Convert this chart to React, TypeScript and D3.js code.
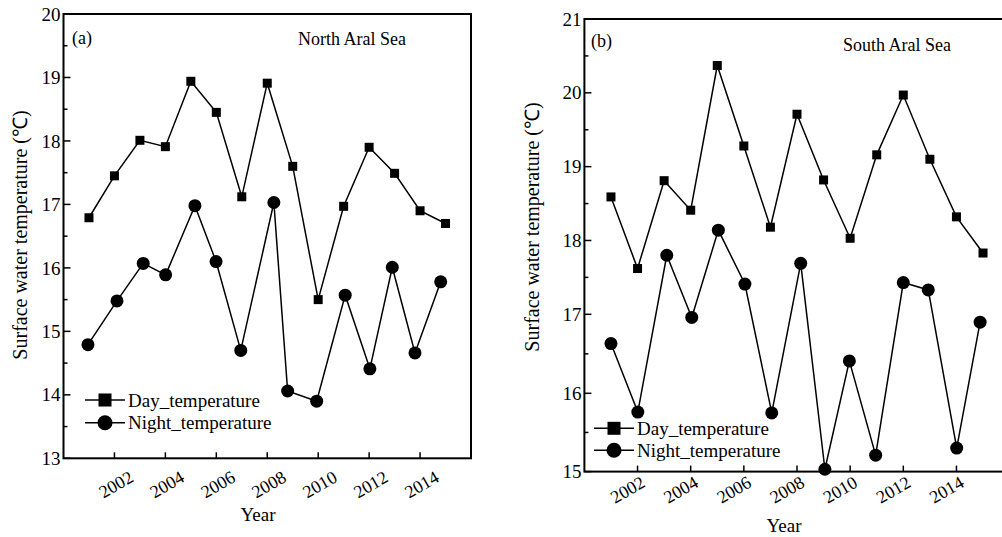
import React from "react";
import * as d3 from "d3";

// ---------- DATA ----------
const years = [2001, 2002, 2003, 2004, 2005, 2006, 2007, 2008, 2009, 2010, 2011, 2012, 2013, 2014, 2015];

const northDay = [16.79, 17.45, 18.01, 17.91, 18.94, 18.45, 17.12, 18.91, 17.6, 15.5, 16.97, 17.9, 17.49, 16.9, 16.7];
const northNightYears = [2000.96, 2002.1, 2003.13, 2004.01, 2005.16, 2005.99, 2006.96, 2008.26, 2008.8, 2009.94, 2011.06, 2012.03, 2012.91, 2013.8, 2014.81];
const northNight = [14.79, 15.48, 16.07, 15.89, 16.98, 16.1, 14.7, 17.03, 14.06, 13.9, 15.57, 14.41, 16.01, 14.66, 15.78];

const southDay = [18.59, 17.62, 18.81, 18.41, 20.37, 19.28, 18.18, 19.71, 18.82, 18.03, 19.16, 19.97, 19.1, 18.32, 17.83];
const southNightYears = [2001.0, 2002.01, 2003.1, 2004.04, 2005.04, 2006.04, 2007.05, 2008.14, 2009.05, 2009.97, 2010.96, 2012.0, 2012.94, 2014.01, 2014.89];
const southNight = [16.63, 15.76, 17.8, 16.96, 18.14, 17.41, 15.75, 17.69, 15.03, 16.41, 15.21, 17.43, 17.33, 15.3, 16.9];

const xTickYears = [2002, 2004, 2006, 2008, 2010, 2012, 2014];
const northYTicks = [13, 14, 15, 16, 17, 18, 19, 20];
const southYTicks = [15, 16, 17, 18, 19, 20, 21];

const seriesNames = ["Day_temperature", "Night_temperature"];
const yLabel = "Surface water temperature (\u2103)";
const xLabel = "Year";

const FONT = "'Liberation Serif', 'Times New Roman', serif";

type PanelProps = {
  x: d3.ScaleLinear<number, number>;
  y: d3.ScaleLinear<number, number>;
  yTicks: number[];
  day: number[];
  nightYears: number[];
  night: number[];
  tag: string;
  title: string;
  tagPos: [number, number];
  titlePos: [number, number];
  legendPos: [number, number];
  legendGap: number;
  yLabelPos: [number, number];
  xLabelPos: [number, number];
  xTickOffset: [number, number];
};

function Panel(p: PanelProps) {
  const { x, y } = p;
  const [x0, x1] = x.range();
  const yr = y.range();
  const yBottom = yr[0];
  const yTop = yr[yr.length - 1];
  const line = d3.line<[number, number]>().x((d) => x(d[0])).y((d) => y(d[1]));
  const dayPts: [number, number][] = years.map((yv, i) => [yv, p.day[i]]);
  const nightPts: [number, number][] = p.nightYears.map((yv, i) => [yv, p.night[i]]);
  const ydom = y.domain();
  const minorTicks: number[] = [];
  for (let v = ydom[0] + 0.5; v < ydom[ydom.length - 1]; v += 1) minorTicks.push(v);
  const sq = 9;
  const r = 6.5;
  const [lx, ly] = p.legendPos;
  return (
    <g>
      {/* frame */}
      <rect x={x0} y={yTop} width={x1 - x0} height={yBottom - yTop} fill="none" stroke="#000" strokeWidth={2} />
      {/* y ticks */}
      {p.yTicks.map((t) => (
        <g key={"yt" + t}>
          <line x1={x0} x2={x0 + 7} y1={y(t)} y2={y(t)} stroke="#000" strokeWidth={1.5} />
          <text x={x0 - 3} y={y(t)} dy="0.35em" textAnchor="end" fontSize={19} fontFamily={FONT}>{t}</text>
        </g>
      ))}
      {minorTicks.map((t) => (
        <line key={"ym" + t} x1={x0} x2={x0 + 4} y1={y(t)} y2={y(t)} stroke="#000" strokeWidth={1.5} />
      ))}
      {/* x ticks */}
      {xTickYears.map((t) => (
        <g key={"xt" + t}>
          <line x1={x(t)} x2={x(t)} y1={yBottom} y2={yBottom - 6} stroke="#000" strokeWidth={1.5} />
          <text
            transform={`translate(${x(t) + p.xTickOffset[0]},${yBottom + p.xTickOffset[1]}) rotate(-30)`}
            dy="0.35em"
            textAnchor="middle"
            fontSize={18}
            fontFamily={FONT}
          >
            {t}
          </text>
        </g>
      ))}
      {/* lines */}
      <path d={line(dayPts) || ""} fill="none" stroke="#000" strokeWidth={1.5} />
      <path d={line(nightPts) || ""} fill="none" stroke="#000" strokeWidth={1.5} />
      {dayPts.map((d, i) => (
        <rect key={"d" + i} x={x(d[0]) - sq / 2} y={y(d[1]) - sq / 2} width={sq} height={sq} fill="#000" />
      ))}
      {nightPts.map((d, i) => (
        <circle key={"n" + i} cx={x(d[0])} cy={y(d[1])} r={r} fill="#000" />
      ))}
      {/* legend */}
      <g>
        <line x1={lx} x2={lx + 40} y1={ly} y2={ly} stroke="#000" strokeWidth={1.5} />
        <rect x={lx + 20 - 6.5} y={ly - 6.5} width={13} height={13} fill="#000" />
        <text x={lx + 43} y={ly} dy="0.35em" fontSize={19} fontFamily={FONT}>{seriesNames[0]}</text>
        <line x1={lx} x2={lx + 40} y1={ly + p.legendGap} y2={ly + p.legendGap} stroke="#000" strokeWidth={1.5} />
        <circle cx={lx + 20} cy={ly + p.legendGap} r={7.5} fill="#000" />
        <text x={lx + 43} y={ly + p.legendGap} dy="0.35em" fontSize={19} fontFamily={FONT}>{seriesNames[1]}</text>
      </g>
      <text x={p.tagPos[0]} y={p.tagPos[1]} fontSize={18} fontFamily={FONT}>{p.tag}</text>
      <text x={p.titlePos[0]} y={p.titlePos[1]} fontSize={18} fontFamily={FONT}>{p.title}</text>
      <text
        transform={`translate(${p.yLabelPos[0]},${p.yLabelPos[1]}) rotate(-90)`}
        dy="0.35em"
        textAnchor="middle"
        fontSize={20}
        fontFamily={FONT}
      >
        {yLabel}
      </text>
      <text x={p.xLabelPos[0]} y={p.xLabelPos[1]} textAnchor="middle" fontSize={19} fontFamily={FONT}>{xLabel}</text>
    </g>
  );
}

export default function App() {
  const xN = d3.scaleLinear().domain([2000, 2016]).range([63.5, 471]);
  const yN = d3.scaleLinear().domain([13, 20]).range([458.3, 14]);
  const xS = d3.scaleLinear().domain([2000, 2016]).range([584.4, 1009.6]);
  const yS = d3.scaleLinear().domain([15, 16, 17, 21]).range([471.6, 393.3, 314.3, 19]);
  return (
    <svg width={1002} height={537} style={{ position: "absolute", left: 0, top: 0, background: "#fff" }}>
      <rect width={1002} height={537} fill="#fff" />
      <Panel
        x={xN}
        y={yN}
        yTicks={northYTicks}
        day={northDay}
        nightYears={northNightYears}
        night={northNight}
        tag="(a)"
        title="North Aral Sea"
        tagPos={[72, 44]}
        titlePos={[298, 45]}
        legendPos={[85, 400]}
        legendGap={22.7}
        yLabelPos={[20, 235]}
        xLabelPos={[258, 521]}
        xTickOffset={[1.5, 26]}
      />
      <Panel
        x={xS}
        y={yS}
        yTicks={southYTicks}
        day={southDay}
        nightYears={southNightYears}
        night={southNight}
        tag="(b)"
        title="South Aral Sea"
        tagPos={[591, 47]}
        titlePos={[843, 51]}
        legendPos={[594, 428.3]}
        legendGap={22}
        yLabelPos={[532, 227]}
        xLabelPos={[784, 532]}
        xTickOffset={[-10, 18]}
      />
    </svg>
  );
}
